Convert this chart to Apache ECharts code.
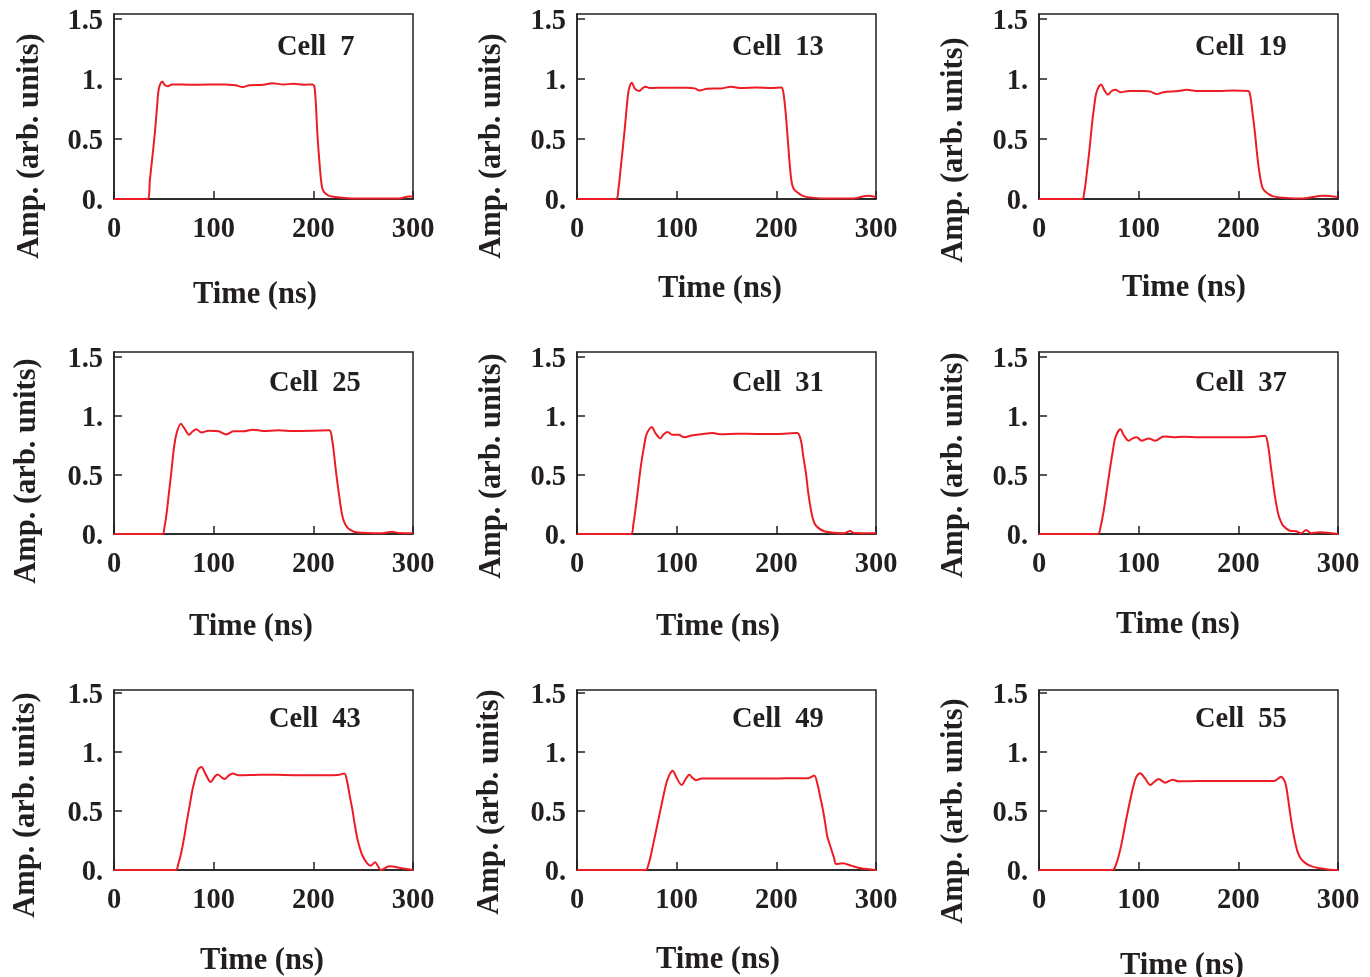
<!DOCTYPE html>
<html>
<head>
<meta charset="utf-8">
<script src="https://cdn.jsdelivr.net/npm/echarts@6/dist/echarts.min.js"></script>
<style>
html,body{margin:0;padding:0;background:#fff}
#chart{width:1370px;height:977px}
</style>
</head>
<body>
<div id="chart"></div>
<script>
// pulse shapes: [time (ns), amplitude]
const cell7 = [[0,0],[33.7,0],[36,0.16],[38.5,0.35],[41,0.55],[43,0.75],[45,0.92],[48.3,0.98],[51,0.95],[54,0.94],[58,0.955],[80,0.952],[110,0.955],[122,0.948],[129,0.933],[136,0.948],[150,0.952],[159,0.964],[170,0.955],[180,0.96],[190,0.952],[199,0.955],[201,0.94],[202.5,0.8],[204,0.55],[206,0.32],[207.7,0.16],[209,0.09],[211,0.056],[215,0.03],[219,0.02],[239,0.005],[286,0.005],[296,0.02],[300,0.02]];
const cell13 = [[0,0],[39,0],[41.5,0.08],[44,0.27],[47.5,0.55],[51,0.86],[52.5,0.93],[55,0.97],[58,0.92],[62.5,0.9],[66,0.925],[69,0.935],[73,0.925],[90,0.928],[110,0.928],[118,0.922],[123,0.905],[130,0.918],[145,0.922],[154.5,0.935],[165,0.925],[180,0.93],[195,0.925],[205,0.93],[207,0.89],[209,0.75],[211,0.55],[213,0.33],[215,0.16],[217,0.09],[219.7,0.065],[228,0.022],[251,0.005],[278,0.005],[291.6,0.028],[300,0.017]];
const cell19 = [[0,0],[43,0],[45.5,0.06],[48,0.22],[50.5,0.4],[53,0.61],[55.5,0.78],[57.7,0.89],[62.3,0.955],[66,0.9],[69,0.87],[73,0.9],[76.7,0.91],[81.7,0.89],[90,0.9],[105,0.9],[112,0.895],[118,0.875],[125,0.89],[140,0.9],[148,0.91],[160,0.9],[180,0.9],[195,0.905],[210,0.9],[212,0.86],[214.5,0.7],[216.7,0.55],[219,0.36],[221.7,0.19],[224,0.1],[226.7,0.064],[235,0.022],[265,0.005],[285,0.028],[300,0.017]];
const cell25 = [[0,0],[48.7,0],[50.5,0.05],[52.7,0.17],[55,0.34],[57.7,0.54],[60,0.72],[62.7,0.85],[67,0.935],[71,0.89],[75.3,0.84],[79,0.87],[82.7,0.887],[87.7,0.86],[95,0.875],[105,0.87],[112.7,0.844],[120,0.87],[130,0.87],[139,0.884],[150,0.873],[165,0.878],[180,0.873],[200,0.875],[216,0.878],[219,0.79],[221,0.66],[223,0.51],[226,0.32],[228.7,0.17],[231,0.1],[234,0.057],[238,0.03],[242.7,0.014],[269,0.006],[279,0.02],[286,0.008],[300,0.006]];
const cell31 = [[0,0],[54,0],[56.5,0.08],[59,0.23],[61.5,0.4],[64,0.57],[67,0.73],[70,0.85],[75,0.906],[79,0.85],[83.6,0.81],[87,0.845],[91,0.864],[96,0.84],[102,0.84],[107.7,0.82],[115,0.835],[125,0.845],[136,0.855],[145,0.845],[160,0.85],[180,0.848],[200,0.848],[221,0.855],[224.7,0.79],[227,0.66],[229.8,0.51],[232,0.35],[234.8,0.2],[237,0.12],[239.8,0.07],[248,0.023],[268,0.006],[274,0.025],[278,0.008],[300,0.006]];
const cell37 = [[0,0],[59,0],[62,0.07],[65,0.2],[68,0.37],[71,0.54],[74,0.7],[76.7,0.82],[81.7,0.887],[85.5,0.83],[90,0.79],[94,0.81],[98,0.82],[103,0.79],[110,0.81],[116.7,0.79],[125,0.827],[135,0.82],[145,0.825],[160,0.82],[180,0.82],[200,0.82],[215,0.822],[226.7,0.833],[230,0.74],[232.5,0.58],[235,0.42],[237.5,0.28],[240,0.17],[242.5,0.11],[245,0.07],[251.7,0.028],[258,0.023],[263,0.006],[268,0.034],[273,0.006],[281.7,0.014],[300,0]];
const cell43 = [[0,0],[62,0],[64.5,0.05],[67.7,0.155],[70.5,0.28],[73,0.41],[76,0.55],[79,0.69],[84,0.845],[87.7,0.873],[92,0.81],[97,0.746],[101,0.79],[104,0.81],[108,0.785],[111,0.77],[115,0.8],[119,0.817],[125,0.803],[140,0.805],[155,0.808],[170,0.805],[190,0.803],[210,0.803],[225,0.805],[231,0.817],[234,0.746],[236.5,0.63],[239,0.52],[241.5,0.39],[244,0.27],[246.5,0.19],[249,0.127],[254,0.056],[257.7,0.037],[262,0.065],[265,0.03],[267.7,0],[276,0.031],[286,0.02],[300,0]];
const cell49 = [[0,0],[69,0],[71.5,0.04],[74,0.12],[79,0.32],[84,0.52],[87,0.64],[90,0.745],[93,0.81],[96,0.84],[100,0.78],[105,0.72],[109,0.77],[112.7,0.807],[116,0.78],[119.4,0.76],[125,0.775],[140,0.776],[160,0.776],[180,0.776],[200,0.776],[220,0.777],[232,0.778],[238,0.8],[241.5,0.72],[244,0.62],[246.5,0.52],[249,0.4],[251,0.29],[255,0.18],[258,0.1],[260,0.05],[266.6,0.057],[275,0.037],[285,0.014],[300,0]];
const cell55 = [[0,0],[74,0],[77,0.04],[80,0.12],[83,0.23],[85.7,0.35],[88.7,0.48],[91.7,0.6],[95,0.72],[97.7,0.79],[101.7,0.82],[106,0.78],[111.7,0.72],[116,0.75],[120,0.77],[126.7,0.74],[134,0.765],[140,0.752],[160,0.753],[180,0.753],[200,0.753],[220,0.753],[236,0.755],[243,0.79],[246,0.76],[247.7,0.72],[250,0.6],[252.3,0.46],[255,0.32],[257.7,0.21],[260,0.14],[263,0.093],[267,0.06],[271.7,0.037],[281.7,0.014],[290,0.005],[300,0]];

const cellNames = ['Cell  7','Cell  13','Cell  19','Cell  25','Cell  31','Cell  37','Cell  43','Cell  49','Cell  55'];
const cellData = [cell7,cell13,cell19,cell25,cell31,cell37,cell43,cell49,cell55];
const xTicks = [0,100,200,300];
const yTicks = [0,0.5,1,1.5];
const xTitle = 'Time (ns)';
const yTitle = 'Amp. (arb. units)';

// layout (pixels)
const colLeft = [114,577,1039], colW = 299;
const rowTop = [14,352,690], rowH = [185,182,180], rowMax = [1.542,1.542,1.525];
const yTitlePos = [[30,146],[492,146],[954,150],[27,471],[492,466],[954,465],[26,805],[490,802],[954,811]];
const xTitlePos = [[255,295],[720,289],[1184,288],[251,627],[718,627],[1178,625],[262,961],[718,960],[1182,966]];
const cellPos = [[277,48],[732,48],[1195,48],[269,384],[732,384],[1195,384],[269,720],[732,720],[1195,720]];

const ink = '#231f20', red = '#ed1c24';
const serif = "'Liberation Serif','Times New Roman',serif";
const yFmt = v => Number.isInteger(v) ? v + '.' : String(v);

const grids=[], xAxes=[], yAxes=[], series=[], graphic=[];
cellData.forEach((d,i)=>{
  const r=Math.floor(i/3), c=i%3;
  grids.push({left:colLeft[c],top:rowTop[r],width:colW,height:rowH[r],show:true,borderColor:ink,borderWidth:1.5,backgroundColor:'transparent'});
  xAxes.push({type:'value',gridIndex:i,min:0,max:300,interval:100,
    axisLine:{lineStyle:{color:ink,width:1.5}},
    axisTick:{inside:true,length:8,lineStyle:{color:ink,width:1.5},customValues:xTicks},
    axisLabel:{customValues:xTicks,color:ink,fontFamily:serif,fontWeight:'bold',fontSize:28.5,margin:16},
    splitLine:{show:false}});
  yAxes.push({type:'value',gridIndex:i,min:0,max:rowMax[r],
    axisLine:{show:true,lineStyle:{color:ink,width:1.5}},
    axisTick:{show:true,inside:true,length:8,lineStyle:{color:ink,width:1.5},customValues:yTicks},
    axisLabel:{customValues:yTicks,formatter:yFmt,color:ink,fontFamily:serif,fontWeight:'bold',fontSize:28.5,margin:11,verticalAlign:'top',lineHeight:6},
    splitLine:{show:false}});
  series.push({type:'line',xAxisIndex:i,yAxisIndex:i,data:d,showSymbol:false,smooth:0.3,
    lineStyle:{color:red,width:2},silent:true});
  const txt={fill:ink,fontFamily:serif,fontWeight:'bold',fontSize:30.5};
  graphic.push({type:'text',x:yTitlePos[i][0],y:yTitlePos[i][1],rotation:Math.PI/2,
    style:{...txt,text:yTitle,textAlign:'center',textVerticalAlign:'middle'}});
  graphic.push({type:'text',x:xTitlePos[i][0],y:xTitlePos[i][1],
    style:{...txt,text:xTitle,textAlign:'center',textVerticalAlign:'middle'}});
  graphic.push({type:'text',x:cellPos[i][0],y:cellPos[i][1],
    style:{...txt,fontSize:28.5,text:cellNames[i],textAlign:'left',textVerticalAlign:'middle'}});
});

const chart=echarts.init(document.getElementById('chart'));
chart.setOption({animation:false,backgroundColor:'#fff',grid:grids,xAxis:xAxes,yAxis:yAxes,series,graphic});
</script>
</body>
</html>
